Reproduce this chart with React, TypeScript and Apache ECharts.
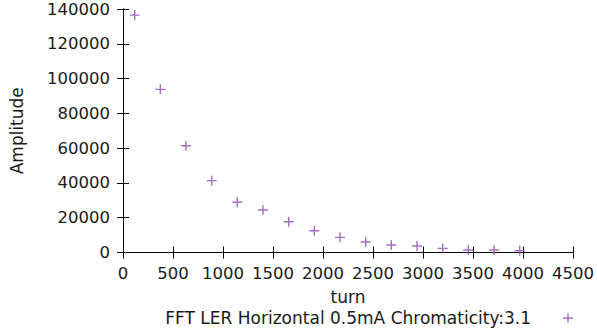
import React, { useEffect, useRef } from "react";
import * as echarts from "echarts";

const turns = [117, 373, 630, 887, 1143, 1400, 1657, 1913, 2170, 2427, 2683, 2940, 3197, 3453, 3710, 3967];
const amplitudes = [136500, 93800, 61400, 41300, 28900, 24400, 17700, 12500, 8700, 6000, 4300, 3700, 2400, 1400, 1400, 1000];
const seriesName = "FFT LER Horizontal 0.5mA Chromaticity:3.1";
const xTitle = "turn";
const yTitle = "Amplitude";

const PLUS = "path://M4.3,0h1.4v4.3h4.3v1.4h-4.3v4.3h-1.4v-4.3h-4.3v-1.4h4.3z";
const COLOR = "#9448b8";
const FONT = "DejaVu Sans";
const FS = 16.5;
const FT = 17;
const TXT = "#1a1a1a";

export default function App() {
  const ref = useRef<HTMLDivElement>(null);
  useEffect(() => {
    const chart = echarts.init(ref.current!, null, { renderer: "svg" });
    const axisLine = { show: true, lineStyle: { color: "#000", width: 1 } };
    const tickIn = { show: true, inside: true, length: 6, lineStyle: { color: "#000", width: 1 } };
    const plain = (v: number) => String(v);
    chart.setOption({
      animation: false,
      backgroundColor: "#fff",
      grid: { left: 123, right: 24, top: 9, bottom: 76.5, containLabel: false },
      legend: {
        data: [{ name: seriesName, icon: PLUS }],
        right: 19,
        top: 304.5,
        align: "right",
        itemWidth: 10,
        itemHeight: 10,
        textStyle: { fontFamily: FONT, fontSize: FT, lineHeight: 17, color: TXT, padding: [0, 27, 0, 0] },
      },
      xAxis: [
        {
          type: "value",
          min: 0,
          max: 4500,
          interval: 500,
          position: "bottom",
          name: xTitle,
          nameLocation: "middle",
          nameGap: 35.5,
          nameTextStyle: { fontFamily: FONT, fontSize: FT, lineHeight: 17, color: TXT },
          axisLine,
          axisTick: tickIn,
          splitLine: { show: false },
          axisLabel: { fontFamily: FONT, fontSize: FS, color: TXT, margin: 12, formatter: plain },
        },
        {
          type: "value",
          min: 0,
          max: 4500,
          interval: 500,
          position: "top",
          axisLine,
          axisTick: tickIn,
          splitLine: { show: false },
          axisLabel: { show: false },
        },
      ],
      yAxis: [
        {
          type: "value",
          min: 0,
          max: 140000,
          interval: 20000,
          position: "left",
          name: yTitle,
          nameLocation: "middle",
          nameRotate: 90,
          nameGap: 98,
          nameTextStyle: { fontFamily: FONT, fontSize: FT, color: TXT },
          axisLine,
          axisTick: tickIn,
          splitLine: { show: false },
          axisLabel: { fontFamily: FONT, fontSize: FS, color: TXT, margin: 13, formatter: plain },
        },
        {
          type: "value",
          min: 0,
          max: 140000,
          interval: 20000,
          position: "right",
          axisLine,
          axisTick: tickIn,
          splitLine: { show: false },
          axisLabel: { show: false },
        },
      ],
      series: [
        {
          name: seriesName,
          type: "scatter",
          symbol: PLUS,
          symbolSize: 10,
          itemStyle: { color: COLOR },
          data: turns.map((t, i) => [t, amplitudes[i]]),
        },
      ],
    });
    return () => chart.dispose();
  }, []);
  return <div ref={ref} style={{ position: "fixed", left: 0, top: 0, width: 597, height: 329 }} />;
}
